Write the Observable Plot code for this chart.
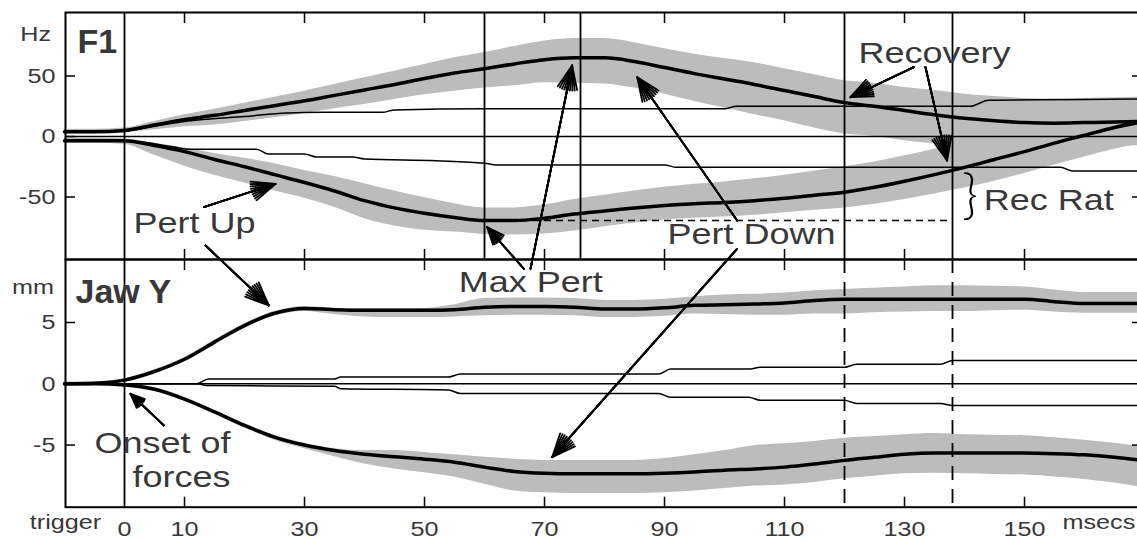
<!DOCTYPE html>
<html><head><meta charset="utf-8">
<script src="https://cdn.jsdelivr.net/npm/d3@7"></script>
<script src="https://cdn.jsdelivr.net/npm/@observablehq/plot@0.6"></script>
<style>
html,body{margin:0;padding:0;background:#fff;overflow:hidden;}
#chart{position:relative;width:1137px;height:541px;overflow:hidden;}
#chart svg{position:absolute;left:0;}
</style></head><body><div id="chart"></div>
<script>
// ---------- data: F1 panel (Hz) ----------
const f1X = [-10,-5,0,5,10,15,20,25,30,35,40,45,50,55,60,65,70,75,80,85,90,95,100,105,110,115,120,125,130,135,140,145,150,155,160,165,169.5];
const f1Down = [4,4,5,9.5,14,17.5,21.5,25.5,29.5,34,38.5,43,48,52.5,56,60,63.5,65,65,62,57,52,47.5,43,38,33,28,25,21.5,18,15,13,11.5,11,11.5,12,12.5];
const f1DownAbove = [2,2,2,3,4,5,6,7,8,9,10,11,11.5,12.5,13.5,14.5,15.5,16,16,15.5,15.5,16,17,18,18,18,18,19,19,20,20,20,20,20,20,20,20];
const f1DownBelow = [2,2,2,4,6,8,9,10,10.5,11,12,12.5,13.5,15,16,18,19,21,21.5,22,22,23,24,25,25,26,26,25,25,24,23,22,21,20,20,20,20];
const f1Up = [-3.5,-3.5,-3.5,-7.5,-12.5,-19,-25,-31.5,-38,-45,-53,-59,-63.5,-67,-69.5,-69.5,-67.5,-64,-61.5,-59,-57,-55.5,-54.5,-53,-51,-48.5,-46,-42,-37,-31.5,-25.5,-19,-12.5,-5.5,1,7.5,12];
const f1UpAbove = [2,2,1.5,2,3,5,7,9,10,12,14,14,13,11.5,10.5,10.5,11,12,13,14,15,16,17,18,19,20,21,21,21,21,21,21,21,21,21,21,21];
const f1UpBelow = [2,2,3,8,12,13,13.5,13.5,13,13.5,15,15,14,12,11.5,12,13,14,13,12.5,12,12,12,12,12,12.5,13,14,15,16,17,18,18,18,18,18,18];
const f1ThinUpX = [-10,0,5,10,13,20,27,33,43,45,60,100,102,141,144,160,169.5];
const f1ThinUpY = [3.5,4.5,8.5,12.5,14,16.5,19.5,20,20,22,23,23,25,25,30,30.5,31];
const f1ThinDownX = [-10,0,5,8,11,22,24,30,32,38,40,52,60,62,90,92,156,158,169.5];
const f1ThinDownY = [-3.5,-3.5,-6,-8.5,-10.5,-10.5,-14.5,-14.5,-17,-17,-18.5,-20,-22,-23.5,-23.5,-25.5,-25.5,-28.5,-28.5];
const f1Markers = [0,60,76,120,138];
const recRat = [{y:-69.5, x1:60, x2:138}];

// ---------- data: Jaw Y panel (mm) ----------
const jawX = f1X;
const jawUp = [0,0.05,0.3,1.0,2.0,3.4,4.75,5.75,6.15,6.05,6.0,6.0,6.0,6.05,6.25,6.3,6.3,6.25,6.1,6.1,6.2,6.4,6.45,6.5,6.6,6.8,6.9,6.9,6.9,6.9,6.9,6.9,6.9,6.7,6.55,6.55,6.55];
const jawUpAbove = [0.12,0.12,0.12,0.15,0.15,0.15,0.15,0.15,0.15,0.1,0.1,0.1,0.15,0.4,0.7,0.7,0.7,0.7,0.7,0.7,0.7,0.7,0.8,0.8,0.8,0.8,0.8,0.9,1.0,1.1,1.1,1.05,1.0,0.95,0.9,0.9,0.9];
const jawUpBelow = [0.12,0.12,0.12,0.15,0.15,0.18,0.2,0.22,0.25,0.4,0.55,0.6,0.6,0.6,0.7,0.7,0.7,0.7,0.7,0.7,0.7,0.7,0.8,0.9,1.0,1.1,1.2,1.1,1.05,1.0,1.0,0.95,0.9,0.85,0.8,0.8,0.8];
const jawDown = [0,0,-0.1,-0.45,-1.25,-2.3,-3.4,-4.35,-5.0,-5.45,-5.75,-5.95,-6.15,-6.4,-6.8,-7.15,-7.3,-7.35,-7.35,-7.35,-7.3,-7.2,-7.05,-6.95,-6.8,-6.55,-6.25,-6.0,-5.75,-5.65,-5.65,-5.65,-5.65,-5.7,-5.8,-6.0,-6.25];
const jawDownAbove = [0.12,0.12,0.12,0.15,0.15,0.15,0.15,0.15,0.15,0.15,0.3,0.5,0.55,0.6,0.8,1.0,1.05,1.1,1.1,1.1,1.2,1.4,1.6,1.9,1.9,1.85,1.8,1.7,1.6,1.6,1.5,1.45,1.4,1.3,1.2,1.15,1.1];
const jawDownBelow = [0.12,0.12,0.12,0.15,0.15,0.18,0.2,0.25,0.3,0.5,0.8,1.0,1.1,1.2,1.4,1.6,1.6,1.6,1.6,1.6,1.6,1.55,1.5,1.4,1.45,1.5,1.5,1.55,1.6,1.65,1.7,1.75,1.8,1.9,2.0,2.1,2.2];
const jawThinX = [-10,12,14,35,36,54,56,89,91,104,106,120,122,136,138,169.5];
const jawThinUpY = [0,0,0.4,0.4,0.55,0.55,0.8,0.8,1.2,1.2,1.35,1.35,1.6,1.6,1.9,1.9];
const jawThinDownY = [0,0,-0.15,-0.2,-0.4,-0.5,-0.8,-0.8,-1.1,-1.1,-1.35,-1.35,-1.6,-1.6,-1.77,-1.77];
const jawSolid = [0];
const jawDashed = [120,138];

// ---------- ticks & labels ----------
const xTicks = [10,30,50,70,90,110,130,150];
const xLabels = [0,10,30,50,70,90,110,130,150];
const f1YTicks = [-50,0,50];
const f1RightTicks = [-50,50];
const jawYTicks = [-5,0,5];
const jawRightTicks = [-5,5];

// ---------- annotations (data units) ----------
const topNotes = [{x:11.67,y:-72.2,text:"Pert Up"},{x:104.5,y:-81.3,text:"Pert Down"},{x:135,y:69.1,text:"Recovery"}];
const recRatNote = [{x:143.2,y:-53.2,text:"Rec Rat"}];
const braceNote = [{x:140.9,y:-49.0,text:"}"}];
const topArrows = [
  {x1:13.22,y1:-58.4,x2:25.17,y2:-39.1},
  {x1:66.55,y1:-109.3,x2:60.45,y2:-75.0},
  {x1:67.67,y1:-109.3,x2:74.6,y2:58.7},
  {x1:102.1,y1:-69.4,x2:85.45,y2:49.0},
  {x1:131.55,y1:57.3,x2:121.0,y2:32.5},
  {x1:133.5,y1:57.3,x2:137.1,y2:-19.8}
];
const bottomArrows = [
  {x1:13.5,y1:11.28,x2:24.05,y2:6.39},
  {x1:102.1,y1:11.01,x2:71.28,y2:-5.99},
  {x1:6.55,y1:-3.40,x2:1.0,y2:-0.82}
];
const bottomNotes = [{x:67.7,y:8.26,text:"Max Pert"}];
const onsetNotes = [{x:17.67,y:-4.90,text:"Onset of"},{x:17.67,y:-7.67,text:"forces"}];

// ---------- build tables ----------
const f1 = f1X.map((x,i)=>({x, down:f1Down[i], downLo:f1Down[i]-f1DownBelow[i], downHi:f1Down[i]+f1DownAbove[i],
  up:f1Up[i], upLo:f1Up[i]-f1UpBelow[i], upHi:f1Up[i]+f1UpAbove[i]}));
const f1ThinUp = f1ThinUpX.map((x,i)=>({x, y:f1ThinUpY[i]}));
const f1ThinDown = f1ThinDownX.map((x,i)=>({x, y:f1ThinDownY[i]}));
const jaw = jawX.map((x,i)=>({x, up:jawUp[i], upLo:jawUp[i]-jawUpBelow[i], upHi:jawUp[i]+jawUpAbove[i],
  down:jawDown[i], downLo:jawDown[i]-jawDownBelow[i], downHi:jawDown[i]+jawDownAbove[i]}));
const jawThinUp = jawThinX.map((x,i)=>({x, y:jawThinUpY[i]}));
const jawThinDown = jawThinX.map((x,i)=>({x, y:jawThinDownY[i]}));

const BAND = "#bcbcbc", TEXT = "#383838", FONT = "'Liberation Sans', Arial, Helvetica, sans-serif";
const common = {
  width: 1141, marginLeft: 65, marginRight: 0,
  x: {domain: [-9.833, 169.5]},
  style: {background: "transparent", overflow: "visible", maxWidth: "none", fontFamily: FONT, color: "black"}
};
const arrows = (data) => [46, 35, 24, 13, 3].map(a => Plot.arrow(data, {x1:"x1", y1:"y1", x2:"x2", y2:"y2",
  headAngle: a, headLength: 21, strokeWidth: 1.8, stroke: "black"}));
const tickAxes = (yt, rt) => [
  Plot.axisX({anchor:"top", ticks:xTicks, tickSize:10, dy:10, tickFormat:()=>"", label:null, strokeWidth:1.5}),
  Plot.axisX({anchor:"bottom", ticks:xTicks, tickSize:10, dy:-10, tickFormat:()=>"", label:null, strokeWidth:1.5}),
  Plot.axisY({anchor:"left", ticks:yt, tickSize:10, dx:10, tickFormat:()=>"", label:null, strokeWidth:1.5}),
  Plot.axisY({anchor:"right", ticks:rt, tickSize:10, dx:-10, tickFormat:()=>"", label:null, strokeWidth:1.5}),
  Plot.axisY({anchor:"left", ticks:yt, tickSize:0, tickPadding:10, fontSize:21, fill:TEXT, tickFormat:d=>String(d), label:null})
];

const topPlot = Plot.plot({
  ...common, height: 260, marginTop: 12, marginBottom: 1,
  y: {domain: [-101.65, 102.5]},
  marks: [
    Plot.areaY(f1, {x:"x", y1:"downLo", y2:"downHi", fill:BAND, curve:"monotone-x"}),
    Plot.areaY(f1, {x:"x", y1:"upLo", y2:"upHi", fill:BAND, curve:"monotone-x"}),
    Plot.ruleY([0], {strokeWidth:1.6}),
    Plot.line(f1ThinUp, {x:"x", y:"y", strokeWidth:1.5, curve:"monotone-x"}),
    Plot.line(f1ThinDown, {x:"x", y:"y", strokeWidth:1.5, curve:"monotone-x"}),
    Plot.line(f1, {x:"x", y:"down", strokeWidth:3.5, curve:"monotone-x"}),
    Plot.line(f1, {x:"x", y:"up", strokeWidth:3.5, curve:"monotone-x"}),
    Plot.ruleX(f1Markers, {strokeWidth:1.8}),
    Plot.ruleY(recRat, {y:"y", x1:"x1", x2:"x2", strokeDasharray:"7,5", strokeWidth:1.5}),
    Plot.frame({strokeWidth:2}),
    ...tickAxes(f1YTicks, f1RightTicks),
    ...arrows(topArrows),
    Plot.text(topNotes, {x:"x", y:"y", text:"text", fontSize:30, fill:TEXT}),
    Plot.text(recRatNote, {x:"x", y:"y", text:"text", fontSize:30, fill:TEXT, textAnchor:"start"}),
    Plot.text(braceNote, {x:"x", y:"y", text:"text", fontSize:54, fill:"black", fontFamily:"Lato", fontWeight:300}),
    Plot.text([{x:-7.83, y:78.2, text:"F1"}], {x:"x", y:"y", text:"text", fontSize:34, fontWeight:"bold", fill:TEXT, textAnchor:"start"}),
    Plot.text([{x:-14.8, y:84.9, text:"Hz"}], {x:"x", y:"y", text:"text", fontSize:21, fill:TEXT})
  ]
});

const bottomPlot = Plot.plot({
  ...common, height: 282, marginTop: 0, marginBottom: 34.3,
  y: {domain: [-10.07, 10.14]},
  marks: [
    Plot.areaY(jaw, {x:"x", y1:"upLo", y2:"upHi", fill:BAND, curve:"monotone-x"}),
    Plot.areaY(jaw, {x:"x", y1:"downLo", y2:"downHi", fill:BAND, curve:"monotone-x"}),
    Plot.ruleY([0], {strokeWidth:1.6}),
    Plot.line(jawThinUp, {x:"x", y:"y", strokeWidth:1.5, curve:"monotone-x"}),
    Plot.line(jawThinDown, {x:"x", y:"y", strokeWidth:1.5, curve:"monotone-x"}),
    Plot.line(jaw, {x:"x", y:"up", strokeWidth:3.5, curve:"monotone-x"}),
    Plot.line(jaw, {x:"x", y:"down", strokeWidth:3.5, curve:"monotone-x"}),
    Plot.ruleX(jawSolid, {strokeWidth:1.8}),
    Plot.ruleX(jawDashed, {strokeWidth:1.8, strokeDasharray:"14,9"}),
    Plot.frame({strokeWidth:2}),
    ...tickAxes(jawYTicks, jawRightTicks),
    Plot.axisX({anchor:"bottom", ticks:xLabels, tickSize:0, tickPadding:14, fontSize:21, fill:TEXT, tickFormat:d=>String(d), label:null}),
    Plot.text([{x:-9.83, text:"trigger"}], {x:"x", text:"text", frameAnchor:"bottom", dy:22, fontSize:21, fill:TEXT}),
    Plot.text([{x:156.33, text:"msecs"}], {x:"x", text:"text", frameAnchor:"bottom", dy:22, fontSize:21, fill:TEXT, textAnchor:"start"}),
    ...arrows(bottomArrows),
    Plot.text(bottomNotes, {x:"x", y:"y", text:"text", fontSize:30, fill:TEXT}),
    Plot.text(onsetNotes, {x:"x", y:"y", text:"text", fontSize:30, fill:TEXT, textAnchor:"end"}),
    Plot.text([{x:-8.17, y:7.44, text:"Jaw Y"}], {x:"x", y:"y", text:"text", fontSize:34, fontWeight:"bold", fill:TEXT, textAnchor:"start"}),
    Plot.text([{x:-15.25, y:7.91, text:"mm"}], {x:"x", y:"y", text:"text", fontSize:21, fill:TEXT})
  ]
});

function stretch(svg) {
  svg.querySelectorAll("text").forEach(t => {
    const g = t.closest("g");
    if (g && (g.getAttribute("font-weight") === "bold" || (g.getAttribute("font-family") || "").includes("Lato"))) return;
    if (!t.textContent) return;
    t.setAttribute("transform", (t.getAttribute("transform") || "") + " scale(1.2,1)");
  });
}
stretch(topPlot); stretch(bottomPlot);
topPlot.style.top = "0px";
bottomPlot.style.top = "259px";
const chart = document.getElementById("chart");
chart.appendChild(topPlot);
chart.appendChild(bottomPlot);
</script></body></html>
